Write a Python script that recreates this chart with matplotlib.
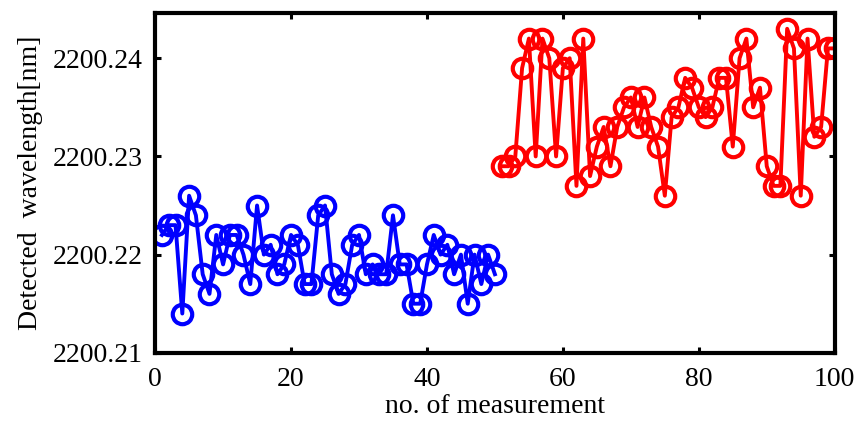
import matplotlib
matplotlib.use('Agg')
import matplotlib.pyplot as plt
from matplotlib.ticker import FormatStrFormatter

plt.rcParams['font.family'] = ['Liberation Serif', 'DejaVu Serif']

# ── Data ──────────────────────────────────────────────────────────
x_blue = list(range(1, 51))
y_blue = [
    2200.222, 2200.223, 2200.223, 2200.214, 2200.226, 2200.224, 2200.218, 2200.216, 2200.222, 2200.219,
    2200.222, 2200.222, 2200.220, 2200.217, 2200.225, 2200.220, 2200.221, 2200.218, 2200.219, 2200.222,
    2200.221, 2200.217, 2200.217, 2200.224, 2200.225, 2200.218, 2200.216, 2200.217, 2200.221, 2200.222,
    2200.218, 2200.219, 2200.218, 2200.218, 2200.224, 2200.219, 2200.219, 2200.215, 2200.215, 2200.219,
    2200.222, 2200.220, 2200.221, 2200.218, 2200.220, 2200.215, 2200.220, 2200.217, 2200.220, 2200.218,
]
x_red = list(range(51, 101))
y_red = [
    2200.229, 2200.229, 2200.230, 2200.239, 2200.242, 2200.230, 2200.242, 2200.240, 2200.230, 2200.239,
    2200.240, 2200.227, 2200.242, 2200.228, 2200.231, 2200.233, 2200.229, 2200.233, 2200.235, 2200.236,
    2200.233, 2200.236, 2200.233, 2200.231, 2200.226, 2200.234, 2200.235, 2200.238, 2200.237, 2200.235,
    2200.234, 2200.235, 2200.238, 2200.238, 2200.231, 2200.240, 2200.242, 2200.235, 2200.237, 2200.229,
    2200.227, 2200.227, 2200.243, 2200.241, 2200.226, 2200.242, 2200.232, 2200.233, 2200.241, 2200.241,
]
x_ticks = [0, 20, 40, 60, 80, 100]
y_ticks = [2200.21, 2200.22, 2200.23, 2200.24]

# ── Plot ──────────────────────────────────────────────────────────
fig = plt.figure(figsize=(8.57, 4.21), dpi=100)
ax = fig.add_axes([0.181, 0.162, 0.793, 0.807])

style = dict(marker='o', markerfacecolor='none', markersize=14,
             markeredgewidth=3, linewidth=2.8)
ax.plot(x_blue, y_blue, color='#0000ff', **style)
ax.plot(x_red, y_red, color='#ff0000', **style)

ax.set_xlim(0, 100)
ax.set_ylim(2200.21, 2200.2446)
ax.set_xticks(x_ticks)
ax.set_yticks(y_ticks)
ax.yaxis.set_major_formatter(FormatStrFormatter('%.2f'))

ax.tick_params(direction='in', length=4, width=2.2, labelsize=20,
               top=True, right=True)
ax.tick_params(axis='x', pad=10)
ax.tick_params(axis='y', pad=9)
for s in ax.spines.values():
    s.set_linewidth(3)

ax.set_xlabel('no. of measurement', fontsize=20, labelpad=2)
ax.set_ylabel('Detected  wavelength[nm]', fontsize=20, labelpad=7)

plt.savefig('out.png', dpi=100)
plt.close()
